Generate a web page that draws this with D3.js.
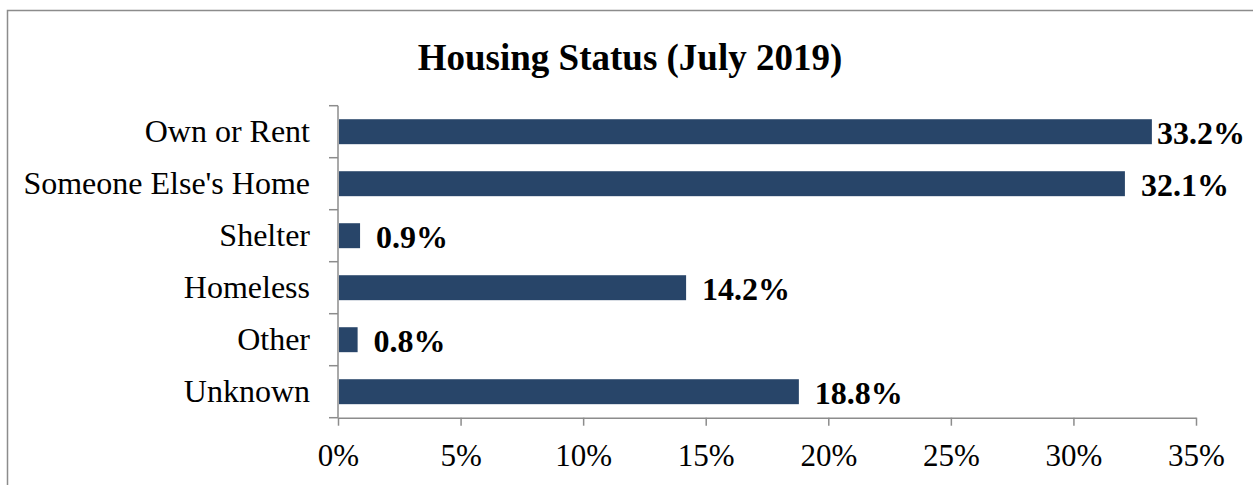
<!DOCTYPE html>
<html>
<head>
<meta charset="utf-8">
<script src="https://cdn.jsdelivr.net/npm/d3@7"></script>
<style>
  html, body { margin: 0; padding: 0; background: #fff; }
  svg { display: block; }
  text { font-family: "Liberation Serif", "Times New Roman", serif; fill: #000; }
</style>
</head>
<body>
<svg id="chart"></svg>
<script>
// Chart data
const categories = ['Own or Rent', "Someone Else's Home", 'Shelter', 'Homeless', 'Other', 'Unknown'];
const values = [33.2, 32.1, 0.9, 14.2, 0.8, 18.8];
const xTicks = [0, 5, 10, 15, 20, 25, 30, 35];
const title = 'Housing Status (July 2019)';

const width = 1253;
const height = 485;
const axisColor = '#8c8c8c';
const barColor = '#284569';

const svg = d3.select('#chart').attr('width', width).attr('height', height);

// Outer chart border (right and bottom edges fall outside the picture)
svg.append('rect')
  .attr('x', 7.5)
  .attr('y', 10.5)
  .attr('width', width + 20)
  .attr('height', height + 20)
  .attr('fill', 'none')
  .attr('stroke', axisColor)
  .attr('stroke-width', 1.5);

// Title
svg.append('text')
  .attr('x', 630)
  .attr('y', 70)
  .attr('text-anchor', 'middle')
  .style('font-size', '37px')
  .style('font-weight', 'bold')
  .text(title);

// Scales
const x = d3.scaleLinear().domain([0, 35]).range([338, 1196]);
const y = d3.scaleBand()
  .domain(categories)
  .range([105.7, 417.7])
  .paddingInner(0.52)
  .paddingOuter(0.26);

// Bars
svg.selectAll('.bar')
  .data(values)
  .enter()
  .append('rect')
  .attr('class', 'bar')
  .attr('x', x(0) + 1)
  .attr('y', (d, i) => y(categories[i]))
  .attr('width', d => x(d) - x(0) - 1)
  .attr('height', y.bandwidth())
  .attr('fill', barColor);

// X axis
const xAxis = svg.append('g')
  .attr('transform', 'translate(0,' + y.range()[1] + ')')
  .call(d3.axisBottom(x)
    .tickValues(xTicks)
    .tickSize(8)
    .tickSizeOuter(0)
    .tickFormat(d => d + '%'));
xAxis.select('.domain').attr('stroke', axisColor).attr('stroke-width', 1.5);
xAxis.selectAll('.tick line').attr('stroke', axisColor).attr('stroke-width', 1.5);
xAxis.selectAll('.tick text')
  .attr('dy', null)
  .attr('y', 48)
  .attr('fill', '#000')
  .style('font-family', '"Liberation Serif", "Times New Roman", serif')
  .style('font-size', '31px');

// Y axis: line plus ticks at the band boundaries
const yAxis = svg.append('g');
yAxis.append('line')
  .attr('x1', x(0)).attr('x2', x(0))
  .attr('y1', y.range()[0]).attr('y2', y.range()[1])
  .attr('stroke', axisColor)
  .attr('stroke-width', 1.5);
const boundaries = categories.map(c => y(c) - y.step() * y.paddingInner() / 2)
  .concat([y.range()[1]]);
yAxis.selectAll('.ytick')
  .data(boundaries)
  .enter()
  .append('line')
  .attr('x1', x(0) - 9).attr('x2', x(0))
  .attr('y1', d => d).attr('y2', d => d)
  .attr('stroke', axisColor)
  .attr('stroke-width', 1.5);

// Category labels
svg.selectAll('.cat-label')
  .data(categories)
  .enter()
  .append('text')
  .attr('class', 'cat-label')
  .attr('x', 310)
  .attr('y', d => y(d) + y.bandwidth() / 2 + 10)
  .attr('text-anchor', 'end')
  .style('font-size', '32px')
  .text(d => d);

// Value labels (kept inside the chart edge like the original)
const labelRight = 1245;
svg.selectAll('.val-label')
  .data(values)
  .enter()
  .append('text')
  .attr('class', 'val-label')
  .attr('y', (d, i) => y(categories[i]) + y.bandwidth() / 2 + 12)
  .style('font-size', '32px')
  .style('font-weight', 'bold')
  .text(d => d.toFixed(1) + '%')
  .attr('x', function (d) {
    const w = this.getComputedTextLength();
    return Math.min(x(d) + 16, labelRight - w);
  });
</script>
</body>
</html>
